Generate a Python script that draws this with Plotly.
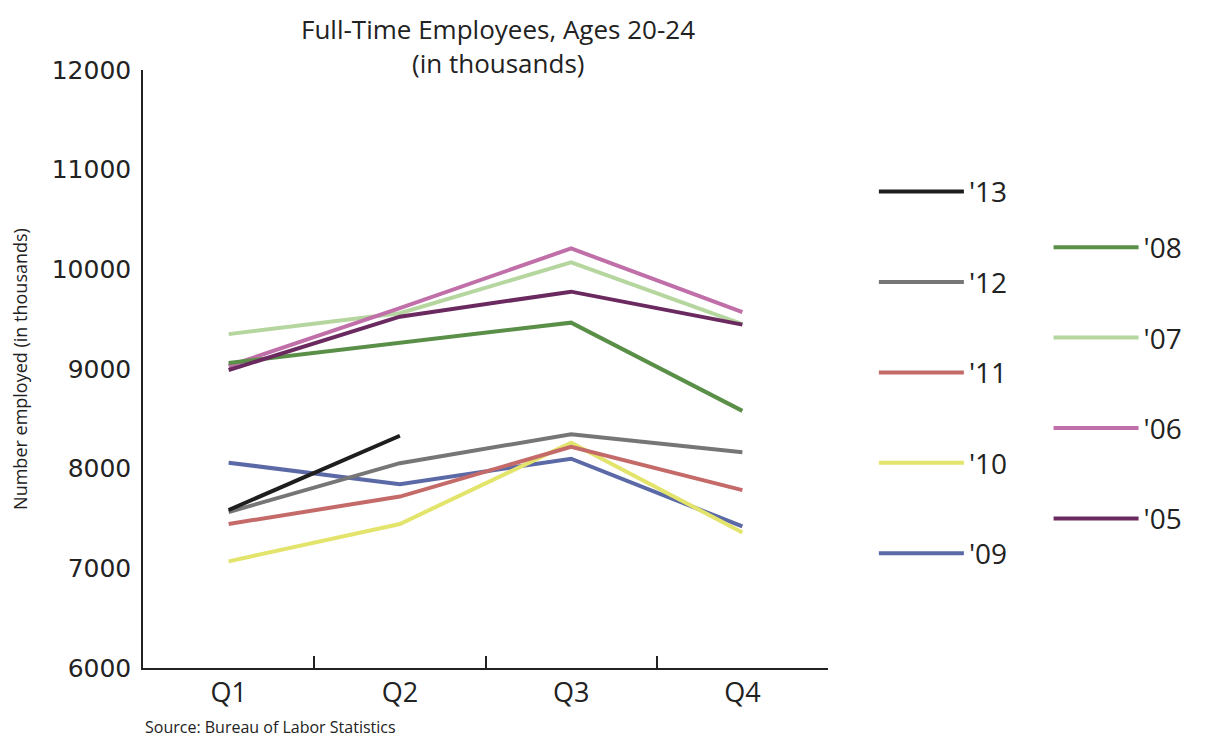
import plotly.graph_objects as go

quarters = ["Q1", "Q2", "Q3", "Q4"]

y13 = [7585, 8330]
y12 = [7565, 8055, 8345, 8165]
y11 = [7445, 7720, 8220, 7785]
y10 = [7070, 7445, 8260, 7360]
y09 = [8060, 7845, 8100, 7420]
y08 = [9060, 9258, 9465, 8580]
y07 = [9350, 9560, 10070, 9450]
y06 = [9030, 9610, 10210, 9570]
y05 = [8990, 9525, 9776, 9445]

series = [
    ("'13", y13, "#1e1e1e", "legend"),
    ("'12", y12, "#767676", "legend"),
    ("'11", y11, "#c46b6a", "legend"),
    ("'10", y10, "#e3e46c", "legend"),
    ("'09", y09, "#5b6aa6", "legend"),
    ("'08", y08, "#5a8f48", "legend2"),
    ("'07", y07, "#b6d6a0", "legend2"),
    ("'06", y06, "#c06fa8", "legend2"),
    ("'05", y05, "#6b2a5f", "legend2"),
]

fig = go.Figure()
draw_order = ["'07", "'06", "'08", "'05", "'09", "'10", "'11", "'12", "'13"]
names = [s[0] for s in series]
lookup = {s[0]: s for s in series}
for name in draw_order:
    n, vals, color, leg = lookup[name]
    rank = names.index(name)
    fig.add_trace(go.Scatter(
        x=quarters[:len(vals)], y=vals, name=n, mode="lines",
        line=dict(color=color, width=4),
        legend=leg, legendgroup=n, legendrank=rank + 1,
    ))

font_main = "Open Sans"
W, H = 1215, 735  # page body has an 8px margin
fig.update_layout(
    width=W, height=H,
    paper_bgcolor="white", plot_bgcolor="white",
    margin=dict(l=135, r=395, t=62, b=75),
    font=dict(family=font_main, color="#222"),
    xaxis=dict(
        type="category", categoryorder="array", categoryarray=quarters,
        range=[-0.5, 3.5], tickson="boundaries", ticks="inside", ticklen=12,
        tickwidth=1.5, tickcolor="#222", showline=True, linecolor="#222", linewidth=1.5,
        showgrid=False, zeroline=False,
        tickfont=dict(family=font_main, size=27, color="#222"),
    ),
    yaxis=dict(
        range=[6000, 12000], dtick=1000, tickformat="d",
        showline=True, linecolor="#222", linewidth=1.5,
        showgrid=False, zeroline=False, ticks="", ticklabelstandoff=5,
        tickfont=dict(family="DejaVu Sans", size=25, color="#222"),
        automargin=True,
        title=dict(text="Number employed (in thousands)", standoff=20,
                   font=dict(family=font_main, size=18, color="#222")),
    ),
    legend=dict(
        x=1.067, y=0.838, xanchor="left", yanchor="top", itemwidth=85,
        font=dict(family=font_main, size=28, color="#222"),
        tracegroupgap=51, bgcolor="rgba(0,0,0,0)",
    ),
    legend2=dict(
        x=1.322, y=0.745, xanchor="left", yanchor="top", itemwidth=85,
        font=dict(family=font_main, size=28, color="#222"),
        tracegroupgap=51, bgcolor="rgba(0,0,0,0)",
    ),
    annotations=[
        dict(text="Full-Time Employees, Ages 20-24", xref="paper", yref="paper",
             x=0.518, y=1.068, xanchor="center", yanchor="middle", showarrow=False,
             font=dict(family=font_main, size=26, color="#222")),
        dict(text="(in thousands)", xref="paper", yref="paper",
             x=0.518, y=1.011, xanchor="center", yanchor="middle", showarrow=False,
             font=dict(family=font_main, size=26, color="#222")),
        dict(text="Source: Bureau of Labor Statistics", xref="paper", yref="paper",
             x=0, y=-0.098, xanchor="left", yanchor="middle", showarrow=False,
             font=dict(family=font_main, size=16, color="#222")),
    ],
)

fig.write_html("out.html")
